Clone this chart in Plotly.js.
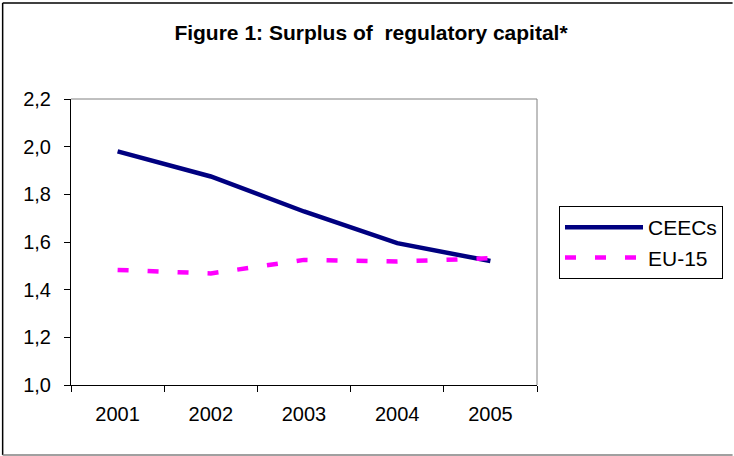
<!DOCTYPE html>
<html>
<head>
<meta charset="utf-8">
<script src="https://cdn.plot.ly/plotly-3.0.1.min.js"></script>
<style>
html,body{margin:0;padding:0;background:#fff;}
#chart{width:734px;height:456px;}
</style>
</head>
<body>
<div id="chart"></div>
<script>
const years = ['2001', '2002', '2003', '2004', '2005'];
const ceecs = [1.98, 1.875, 1.728, 1.595, 1.52];
const eu15 = [1.483, 1.468, 1.525, 1.518, 1.532];
const yTicks = [1.0, 1.2, 1.4, 1.6, 1.8, 2.0, 2.2];

const traces = [
  {x: years, y: ceecs, name: 'CEECs', type: 'scatter', mode: 'lines', legendgroup: 'a',
   line: {color: '#000080', width: 4.5}},
  {x: years, y: eu15, name: 'EU-15', type: 'scatter', mode: 'lines', legendgroup: 'b',
   line: {color: '#FF00FF', width: 4.5, dash: '11px,19px'}}
];

const px = (p) => (p - 71) / 467;
const py = (p) => (385 - p) / 286;

const layout = {
  width: 734, height: 456,
  margin: {l: 71, r: 196, t: 99, b: 71},
  paper_bgcolor: '#fff', plot_bgcolor: '#fff',
  separators: ', ',
  font: {family: 'Liberation Sans, Arial, sans-serif', size: 20, color: '#000'},
  title: {text: '<b>Figure 1: Surplus of \u00a0regulatory capital*</b>',
          font: {size: 21}, x: 371 / 734, xanchor: 'center', xref: 'container',
          y: 1 - 33 / 456, yanchor: 'middle'},
  xaxis: {type: 'category', tickson: 'boundaries', ticks: 'outside', ticklen: 6,
          tickcolor: '#000', showline: true, linecolor: '#000', linewidth: 1,
          showgrid: false, zeroline: false, range: [-0.5, 4.5], ticklabelstandoff: 11},
  yaxis: {range: [1.0, 2.2], tickvals: yTicks, tickformat: '.1f', ticks: 'outside',
          ticklen: 6, tickcolor: '#000', showline: true, linecolor: '#000', linewidth: 1,
          showgrid: false, zeroline: false, ticklabelstandoff: 9},
  showlegend: true,
  legend: {x: px(559), xanchor: 'left', y: py(206), yanchor: 'top',
           bordercolor: '#000', borderwidth: 1, itemwidth: 78,
           font: {size: 21}, tracegroupgap: 7, traceorder: 'normal'},
  shapes: [
    {type: 'line', xref: 'paper', yref: 'paper', x0: 0, x1: 1, y0: 1, y1: 1,
     line: {color: '#808080', width: 1}},
    {type: 'line', xref: 'paper', yref: 'paper', x0: 1, x1: 1, y0: 0, y1: 1,
     line: {color: '#808080', width: 1}},
    {type: 'line', xref: 'paper', yref: 'paper', x0: px(2.5), x1: px(2.5), y0: py(3), y1: py(455),
     line: {color: '#000', width: 1.5}},
    {type: 'line', xref: 'paper', yref: 'paper', x0: px(2.5), x1: px(734), y0: py(3), y1: py(3),
     line: {color: '#000', width: 1.5}},
    {type: 'line', xref: 'paper', yref: 'paper', x0: px(2.5), x1: px(734), y0: py(455), y1: py(455),
     line: {color: '#808080', width: 1.5}}
  ]
};

Plotly.newPlot('chart', traces, layout, {staticPlot: true});
</script>
</body>
</html>
